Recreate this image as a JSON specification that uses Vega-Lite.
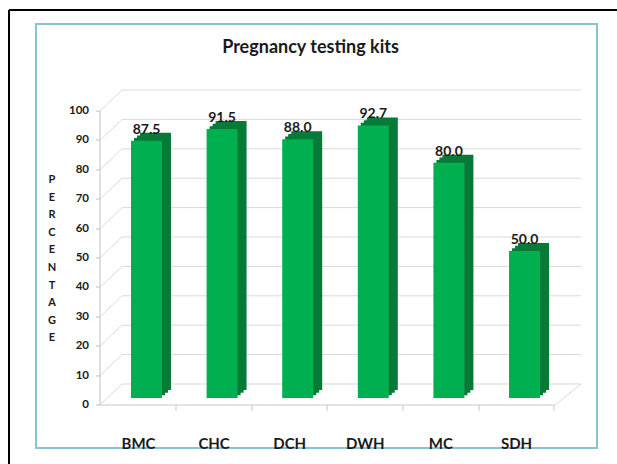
{
  "$schema": "https://vega.github.io/schema/vega-lite/v6.json",
  "width": 561,
  "height": 424,
  "autosize": {"type": "none"},
  "padding": {"left": 36, "top": 24, "right": 20, "bottom": 16},
  "background": "white",
  "config": {"view": {"stroke": "#86c3d3", "strokeWidth": 2}, "font": "Lato"},
  "title": {"text": "Pregnancy testing kits", "frame": "group", "anchor": "middle", "offset": -48, "dx": -6, "font": "Lato", "fontSize": 18, "fontWeight": "bold", "color": "#1a1a1a"},
  "datasets": {
    "bars": [
      {"site": "BMC", "value": 87.5},
      {"site": "CHC", "value": 91.5},
      {"site": "DCH", "value": 88.0},
      {"site": "DWH", "value": 92.7},
      {"site": "MC", "value": 80.0},
      {"site": "SDH", "value": 50.0}
    ],
    "ticks": [
      {"value": 0}, {"value": 10}, {"value": 20}, {"value": 30}, {"value": 40}, {"value": 50},
      {"value": 60}, {"value": 70}, {"value": 80}, {"value": 90}, {"value": 100}
    ]
  },
  "layer": [
    {
      "data": {"name": "ticks"},
      "mark": {"type": "rule", "color": "#d9d9d9", "strokeWidth": 1, "xOffset": 22, "yOffset": -14},
      "encoding": {
        "x": {"datum": 0, "type": "quantitative", "scale": {"domain": [0, 1], "range": [64, 545]}, "axis": null},
        "x2": {"datum": 1},
        "y": {"field": "value", "type": "quantitative", "scale": {"domain": [0, 100], "range": [374, 80]}, "axis": null}
      }
    },
    {
      "data": {"name": "ticks"},
      "mark": {"type": "rule", "color": "#d9d9d9", "strokeWidth": 1, "x2Offset": 22, "yOffset": 7, "y2Offset": -14},
      "encoding": {
        "x": {"datum": 0, "type": "quantitative", "scale": {"domain": [0, 1], "range": [64, 545]}, "axis": null},
        "x2": {"datum": 0},
        "y": {"field": "value", "type": "quantitative", "scale": {"domain": [0, 100], "range": [374, 80]}, "axis": null},
        "y2": {"field": "value"}
      }
    },
    {
      "data": {"values": [{"edge": "right"}]},
      "mark": {"type": "rule", "color": "#d9d9d9", "strokeWidth": 1, "xOffset": -26, "yOffset": 7, "y2Offset": -14},
      "encoding": {
        "x": {"datum": 1, "type": "quantitative", "scale": {"domain": [0, 1], "range": [64, 545]}, "axis": null},
        "x2": {"datum": 1},
        "y": {"datum": 0, "type": "quantitative", "scale": {"domain": [0, 100], "range": [374, 80]}, "axis": null},
        "y2": {"datum": 0}
      }
    },
    {
      "data": {"name": "bars"},
      "encoding": {
        "x": {
          "field": "site", "type": "nominal", "sort": null,
          "scale": {"domain": ["BMC", "CHC", "DCH", "DWH", "MC", "SDH"], "range": [72, 527], "paddingInner": 0.59, "paddingOuter": 0.304},
          "axis": {"title": null, "orient": "bottom", "offset": -35, "translate": -8, "domainColor": "#c8c8c8", "tickColor": "#c8c8c8", "tickSize": 6, "tickOffset": 37.8, "labelOffset": -37.8, "labelFont": "Lato", "labelFontSize": 15, "labelFontWeight": "bold", "labelColor": "#1a1a1a", "labelPadding": 26, "labelAngle": 0, "grid": false}
        },
        "y": {
          "field": "value", "type": "quantitative",
          "scale": {"domain": [0, 100], "range": [374, 80]},
          "axis": {
            "orient": "left", "offset": -57, "translate": 7,
            "values": [0, 10, 20, 30, 40, 50, 60, 70, 80, 90, 100],
            "domainColor": "#bfbfbf", "tickColor": "#bfbfbf", "tickSize": 4,
            "labelFont": "Lato", "labelFontSize": 11.5, "labelFontWeight": "bold", "labelColor": "#1a1a1a", "labelPadding": 7,
            "grid": false,
            "title": ["P", "E", "R", "C", "E", "N", "T", "A", "G", "E"],
            "titleAngle": 0, "titleFont": "Lato", "titleFontSize": 11, "titleFontWeight": "bold", "titleColor": "#1a1a1a",
            "titleLineHeight": 17.6, "titleX": -48, "titleY": 143, "titleBaseline": "top", "titleAlign": "center"
          }
        }
      },
      "layer": [
        {"mark": {"type": "bar", "color": "#087a37", "xOffset": 3, "yOffset": -2.7, "y2Offset": -2.7}},
        {"mark": {"type": "bar", "color": "#087a37", "xOffset": 6, "yOffset": -5.3, "y2Offset": -5.3}},
        {"mark": {"type": "bar", "color": "#087a37", "xOffset": 9, "yOffset": -8, "y2Offset": -8}},
        {"mark": {"type": "bar", "color": "#00b050"}},
        {
          "mark": {"type": "text", "dy": -7, "baseline": "alphabetic", "font": "Lato", "fontSize": 14, "fontWeight": "bold", "color": "#1a1a1a"},
          "encoding": {"text": {"field": "value", "type": "quantitative", "format": ".1f"}}
        }
      ]
    },
    {
      "data": {"values": [{"side": "top"}]},
      "mark": {"type": "rule", "color": "#000000", "strokeWidth": 2},
      "encoding": {
        "x": {"datum": 0, "type": "quantitative", "scale": {"domain": [0, 1], "range": [-27, 600]}, "axis": null},
        "x2": {"datum": 1},
        "y": {"datum": 1, "type": "quantitative", "scale": {"domain": [0, 1], "range": [460, -14]}, "axis": null}
      }
    },
    {
      "data": {"values": [{"side": "left"}]},
      "mark": {"type": "rule", "color": "#000000", "strokeWidth": 2},
      "encoding": {
        "x": {"datum": 0, "type": "quantitative", "scale": {"domain": [0, 1], "range": [-27, 600]}, "axis": null},
        "y": {"datum": 0, "type": "quantitative", "scale": {"domain": [0, 1], "range": [460, -14]}, "axis": null},
        "y2": {"datum": 1}
      }
    }
  ],
  "resolve": {"scale": {"x": "independent", "y": "independent"}}
}
